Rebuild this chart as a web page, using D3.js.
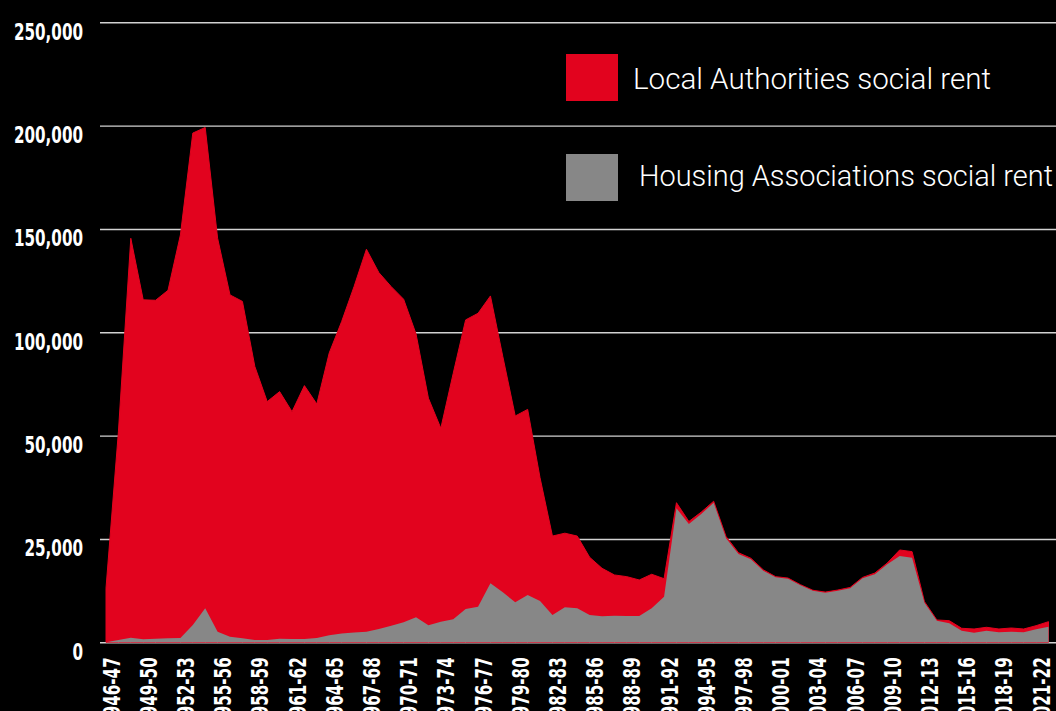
<!DOCTYPE html>
<html>
<head>
<meta charset="utf-8">
<script src="https://cdn.jsdelivr.net/npm/d3@7"></script>
<style>
  html, body { margin: 0; padding: 0; background: #000; }
  svg { display: block; }
  .axisText { font-family: "DejaVu Sans", sans-serif; font-weight: bold; font-size: 23px; fill: #fff; }
  .legendText { font-family: Roboto, "Open Sans", sans-serif; font-weight: 300; font-size: 30px; fill: #fff; }
</style>
</head>
<body>
<div id="chart"></div>
<script>
// Step 1: data
var years = [
  "1946-47","1947-48","1948-49","1949-50","1950-51","1951-52","1952-53","1953-54","1954-55","1955-56",
  "1956-57","1957-58","1958-59","1959-60","1960-61","1961-62","1962-63","1963-64","1964-65","1965-66",
  "1966-67","1967-68","1968-69","1969-70","1970-71","1971-72","1972-73","1973-74","1974-75","1975-76",
  "1976-77","1977-78","1978-79","1979-80","1980-81","1981-82","1982-83","1983-84","1984-85","1985-86",
  "1986-87","1987-88","1988-89","1989-90","1990-91","1991-92","1992-93","1993-94","1994-95","1995-96",
  "1996-97","1997-98","1998-99","1999-00","2000-01","2001-02","2002-03","2003-04","2004-05","2005-06",
  "2006-07","2007-08","2008-09","2009-10","2010-11","2011-12","2012-13","2013-14","2014-15","2015-16",
  "2016-17","2017-18","2018-19","2019-20","2020-21","2021-22","2022-23"
];

// Local Authorities social rent
var localAuthorities = [
  13100, 51240, 144390, 114970, 114630, 119330, 146060, 192210, 190870, 142930,
  116740, 113980, 82940, 65900, 70430, 60800, 73400, 64260, 88310, 103070,
  119730, 137630, 125680, 118080, 111160, 93150, 63990, 48610, 74630, 97940,
  100580, 103320, 76100, 49820, 51250, 29810, 19090, 17930, 17470, 13960,
  11610, 9850, 9520, 8720, 8230, 4350, 1350, 600, 450, 350,
  400, 300, 250, 200, 150, 150, 150, 100, 150, 150,
  200, 200, 300, 300, 1460, 1460, 250, 170, 630, 580,
  900, 820, 800, 890, 800, 870, 1210
];

// Housing Associations social rent
var housingAssociations = [
  0, 560, 1110, 730, 870, 970, 1040, 4190, 8230, 2570,
  1360, 970, 560, 560, 870, 800, 800, 1040, 1690, 2130,
  2370, 2570, 3220, 4020, 4840, 6050, 4110, 4990, 5570, 8060,
  8620, 14280, 12100, 9680, 11450, 9990, 6610, 8470, 8230, 6610,
  6290, 6440, 6360, 6360, 8230, 11040, 32430, 28630, 31050, 33780,
  25170, 21370, 20090, 17330, 15730, 15390, 13790, 12490, 12000, 12490,
  13070, 15490, 16460, 18880, 20880, 20470, 9580, 5230, 4600, 2810,
  2320, 2810, 2420, 2570, 2420, 3150, 3780
];

var yTicks = [0, 25000, 50000, 100000, 150000, 200000, 250000];
var xTickLabels = years.filter(function(d, i) { return i % 3 === 0; });

var legendItems = ["Local Authorities social rent", "Housing Associations social rent"];

// Step 2: canvas
var svgWidth = 1056;
var svgHeight = 711;

var plotTop = 22.3;
var plotBottom = 642.3;
var gridLeft = 100;
var xStart = 106;
var xEnd = 1048.5;
var squeeze = 0.66; // condensed look for the axis labels

var svg = d3.select("#chart")
  .append("svg")
  .attr("width", svgWidth)
  .attr("height", svgHeight);

svg.append("rect")
  .attr("width", svgWidth)
  .attr("height", svgHeight)
  .attr("fill", "#000");

// Step 3: scales (equal spacing per tick, like the original)
var step = (plotBottom - plotTop) / (yTicks.length - 1);
var yScale = d3.scaleLinear()
  .domain(yTicks)
  .range(yTicks.map(function(d, i) { return plotBottom - i * step; }));

var xScale = d3.scalePoint()
  .domain(years)
  .range([xStart, xEnd]);

var chartData = years.map(function(d, i) {
  return { year: d, la: localAuthorities[i], ha: housingAssociations[i] };
});

// Step 4: gridlines + y labels
var leftAxis = d3.axisLeft(yScale)
  .tickValues(yTicks)
  .tickFormat(d3.format(","))
  .tickSize(-(svgWidth - gridLeft))
  .tickPadding(17);

var yAxisGroup = svg.append("g")
  .attr("transform", "translate(" + gridLeft + ",0)")
  .call(leftAxis);

yAxisGroup.select(".domain").remove();
yAxisGroup.attr("font-family", null).attr("font-size", null);
yAxisGroup.selectAll(".tick line")
  .attr("stroke", "#d2d2d2")
  .attr("stroke-width", 1.4);
yAxisGroup.selectAll(".tick text")
  .attr("class", "axisText")
  .attr("transform", "scale(" + squeeze + ",1)")
  .attr("x", -17 / squeeze)
  .attr("dy", 0)
  .attr("y", 17);

// Step 5: areas
var totalArea = d3.area()
  .x(function(d) { return xScale(d.year); })
  .y0(yScale(0))
  .y1(function(d) { return yScale(d.la + d.ha); });

var haArea = d3.area()
  .x(function(d) { return xScale(d.year); })
  .y0(yScale(0))
  .y1(function(d) { return yScale(d.ha); });

svg.append("path")
  .datum(chartData)
  .attr("d", totalArea)
  .attr("fill", "#e2031e")
  .attr("stroke", "#e2031e")
  .attr("stroke-width", 1);

svg.append("path")
  .datum(chartData)
  .attr("d", haArea)
  .attr("fill", "#878787");

// Step 6: x labels
var bottomAxis = d3.axisBottom(xScale)
  .tickValues(xTickLabels)
  .tickSize(0);

var xAxisGroup = svg.append("g")
  .attr("transform", "translate(0," + plotBottom + ")")
  .call(bottomAxis);

xAxisGroup.select(".domain").remove();
xAxisGroup.attr("font-family", null).attr("font-size", null);
xAxisGroup.selectAll(".tick text")
  .attr("class", "axisText")
  .attr("transform", "rotate(-90) scale(" + squeeze + ",1)")
  .attr("text-anchor", "end")
  .attr("x", -15 / squeeze)
  .attr("y", 13)
  .attr("dy", 0);

// Step 7: legend
var legendColors = ["#e2031e", "#878787"];
var legendTextX = [633, 639];
var legendTextW = [358, 414];

var legend = svg.selectAll(".legendItem")
  .data(legendItems)
  .enter()
  .append("g")
  .attr("class", "legendItem")
  .attr("transform", function(d, i) { return "translate(0," + (i * 100) + ")"; });

legend.append("rect")
  .attr("x", 566)
  .attr("y", 54)
  .attr("width", 52)
  .attr("height", 47)
  .attr("fill", function(d, i) { return legendColors[i]; });

legend.append("text")
  .attr("class", "legendText")
  .attr("x", function(d, i) { return legendTextX[i]; })
  .attr("y", function(d, i) { return 89 - i * 3; })
  .attr("textLength", function(d, i) { return legendTextW[i]; })
  .attr("lengthAdjust", "spacingAndGlyphs")
  .text(function(d) { return d; });
</script>
</body>
</html>
